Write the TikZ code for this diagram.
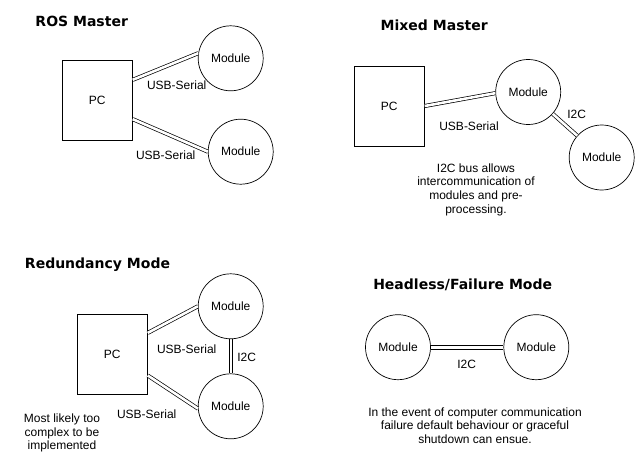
\documentclass[tikz,border=0pt]{standalone}
\usepackage{fontspec}
\setmainfont{Liberation Sans}
\newfontfamily\headfont{DejaVu Sans}
\begin{document}
\begin{tikzpicture}[x=1pt, y=-1pt,
        pc/.style={draw, line width=.8pt, minimum width=70pt, minimum height=80pt, inner sep=0pt, font={\fontsize{12}{14}\selectfont}},
        module/.style={draw, circle, line width=.7pt, minimum size=65pt, inner sep=0pt, font={\fontsize{12}{14}\selectfont}},
        link/.style={double, double distance=2.6pt, line width=.7pt},
        rail/.style={line width=.8pt},
        lbl/.style={inner sep=0pt, font={\fontsize{12}{14}\selectfont}},
        note/.style={inner sep=0pt, align=center, font={\fontsize{12}{13.8}\selectfont}},
        ttl/.style={inner sep=0pt, font={\headfont\bfseries\fontsize{14}{16}\selectfont}}]
        \useasboundingbox (0,0) rectangle (635,466);

        \node[ttl] (t1) at (81.7,21.3) {ROS Master};
        \node[pc] (pc1) at (97.3,100.3) {PC};
        \node[module] (m11) at (230.7,58.3) {Module};
        \node[module] (m12) at (240.7,151.7) {Module};
        \draw[link] (pc1.30) -- (m11.171);
        \draw[link] (pc1.-28) -- (m12.west);
        \node[lbl] (u11) at (176.7,85.7) {USB-Serial};
        \node[lbl] (u12) at (165.7,155.7) {USB-Serial};

        \node[ttl] (t2) at (434.2,25) {Mixed Master};
        \node[pc] (pc2) at (389.3,106) {PC};
        \node[module] (m21) at (528.2,92) {Module};
        \node[module] (m22) at (601.7,157.5) {Module};
        \draw[link] (pc2.east) -- (m21.182);
        \draw[link] (m21) -- (m22);
        \node[lbl] (u21) at (469,126.7) {USB-Serial};
        \node[lbl] (i21) at (576.7,114) {I2C};
        \node[note] (n2) at (476,189.7) {I2C bus allows\\intercommunication of\\modules and pre-\\processing.};

        \node[ttl] (t3) at (97.5,265) {Redundancy Mode};
        \node[pc] (pc3) at (112.3,354.2) {PC};
        \node[module] (m31) at (230.7,306.3) {Module};
        \node[module] (m32) at (230.7,406.3) {Module};
        \draw[link] (pc3.31) -- (m31.west);
        \draw[link] (pc3.-31) -- (m32.184);
        \foreach \s in {-1.8,1.8}
            \draw[rail] ([xshift=\s pt]m31.south) -- ([xshift=\s pt]m32.north);
        \node[lbl] (u31) at (186.7,349.3) {USB-Serial};
        \node[lbl] (u32) at (146.7,414) {USB-Serial};
        \node[lbl] (i31) at (246.7,357.3) {I2C};
        \node[note] (n3) at (62,433) {Most likely too\\complex to be\\implemented};

        \node[ttl] (t4) at (462.7,285) {Headless/Failure Mode};
        \node[module] (m41) at (398,347.2) {Module};
        \node[module] (m42) at (536.3,347.2) {Module};
        \foreach \s in {-1.8,1.8}
            \draw[rail] ([yshift=\s pt]m41.east) -- ([yshift=\s pt]m42.west);
        \node[lbl] (i41) at (466.7,364) {I2C};
        \node[note] (n4) at (475,425.7) {In the event of computer communication\\failure default behaviour or graceful\\shutdown can ensue.};

    \end{tikzpicture}
\end{document}
